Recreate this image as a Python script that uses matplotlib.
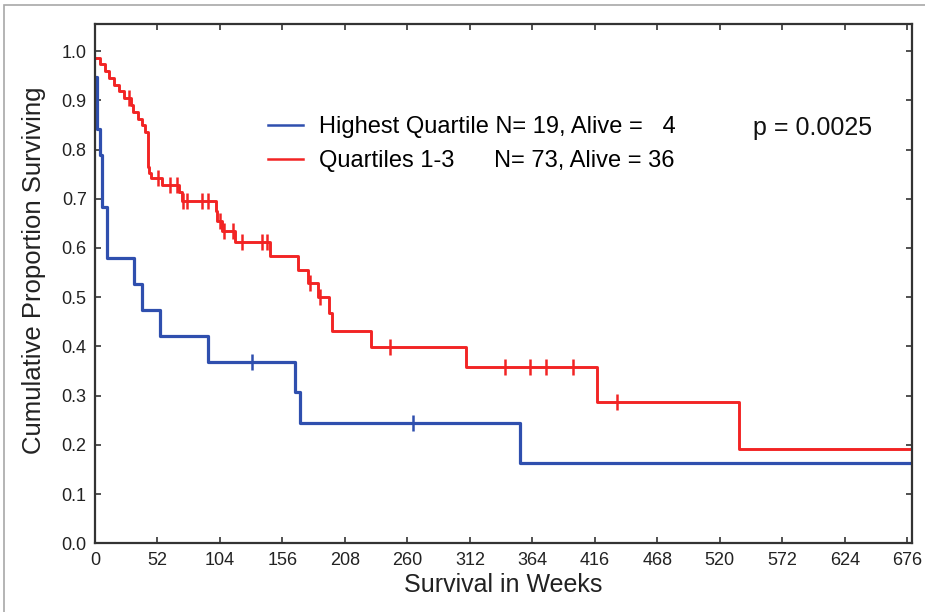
import numpy as np
import matplotlib.pyplot as plt
from matplotlib.lines import Line2D
from matplotlib.patches import Rectangle

plt.rcParams['font.family'] = ['Liberation Sans', 'DejaVu Sans']

# highest quartile (N=19): step times (weeks) and survival after each step
hi_times = [0, 1.4, 4.2, 5.6, 9.7, 32.5, 38.9, 54.1, 94.0, 166.5, 170.6, 353.7]
hi_surv = [0.947, 0.842, 0.789, 0.684, 0.579, 0.526, 0.474, 0.421, 0.368, 0.307, 0.245, 0.164]
hi_cens_t = [130.4, 264.4]
hi_cens_s = [0.368, 0.245]

# quartiles 1-3 (N=73)
lo_times = [0, 4, 8, 12, 16, 20, 24, 30, 32, 36, 39, 42, 44, 45, 47, 55.5, 70, 72,
            100.7, 101.5, 105.5, 116.5, 145.6, 169.2, 177.0, 185.6, 195.0, 197.3,
            229.7, 308.5, 418.0, 536.2]
lo_surv = [0.986, 0.973, 0.959, 0.945, 0.932, 0.918, 0.904, 0.890, 0.876, 0.862, 0.849,
           0.835, 0.765, 0.752, 0.742, 0.728, 0.713, 0.696,
           0.675, 0.654, 0.634, 0.612, 0.583, 0.556, 0.528, 0.500, 0.468, 0.432,
           0.398, 0.359, 0.287, 0.191]
lo_cens_t = [28, 52.7, 62.4, 68, 73, 76.3, 88.8, 94.3, 104.0, 107.4, 114.6,
             122.0, 138.7, 143.0, 179.0, 187.0, 245.5, 341.2, 362.0, 375.1, 398.1, 434.2]
lo_cens_s = [0.904, 0.742, 0.728, 0.728, 0.696, 0.696, 0.696, 0.696, 0.654, 0.634, 0.634,
             0.612, 0.612, 0.612, 0.528, 0.500, 0.398, 0.359, 0.359, 0.359, 0.359, 0.287]

x_ticks = [0, 52, 104, 156, 208, 260, 312, 364, 416, 468, 520, 572, 624, 676]
y_ticks = [0.0, 0.1, 0.2, 0.3, 0.4, 0.5, 0.6, 0.7, 0.8, 0.9, 1.0]
x_end = 680

blue = '#2f4fae'
red = '#f22424'

fig = plt.figure(figsize=(9.25, 6.12), dpi=100)
ax = fig.add_axes([95/925, 1 - 543.3/612, (912 - 95)/925, (543.3 - 24)/612])

# grey frame round the picture
fig.patches.append(Rectangle((4/925, -0.1), 1.2, 1 - 5/612 + 0.1, transform=fig.transFigure,
                             fill=False, edgecolor='#a8a8a8', lw=1.2))

ax.step(hi_times + [x_end], hi_surv + [hi_surv[-1]], where='post', color=blue, lw=2.3)
ax.step(lo_times + [x_end], lo_surv + [lo_surv[-1]], where='post', color=red, lw=2.1)
ax.plot(hi_cens_t, hi_cens_s, ls='none', marker='|', ms=12, mew=1.8, color=blue)
ax.plot(lo_cens_t, lo_cens_s, ls='none', marker='|', ms=12, mew=1.8, color=red)

ax.set_xlim(0, x_end)
ax.set_ylim(0, 1.055)
ax.set_xticks(x_ticks)
ax.set_yticks(y_ticks)
ax.set_yticklabels(['%.1f' % v for v in y_ticks])
ax.tick_params(direction='in', top=True, right=True, length=4, width=1.2,
               labelsize=13, colors='#333333', labelcolor='#222222', pad=6)
for s in ax.spines.values():
    s.set_color('#333333')
    s.set_linewidth(1.6)

ax.set_xlabel('Survival in Weeks', fontsize=18, color='#222222', labelpad=3)
ax.set_ylabel('Cumulative Proportion Surviving', fontsize=18.5, color='#222222')
ax.yaxis.set_label_coords(-0.06, 0.525)

handles = [Line2D([], [], color=blue, lw=1.8), Line2D([], [], color=red, lw=1.8)]
ax.legend(handles, ['Highest Quartile N= 19, Alive =   4', 'Quartiles 1-3      N= 73, Alive = 36'],
          loc='upper left', bbox_to_anchor=(0.197, 0.845), frameon=False, fontsize=17,
          handlelength=1.5, handletextpad=0.65, labelspacing=0.5, borderpad=0)
ax.text(0.805, 0.80, 'p = 0.0025', transform=ax.transAxes, fontsize=18, color='#111111',
        va='center', ha='left')

fig.savefig('out.png', dpi=100)
